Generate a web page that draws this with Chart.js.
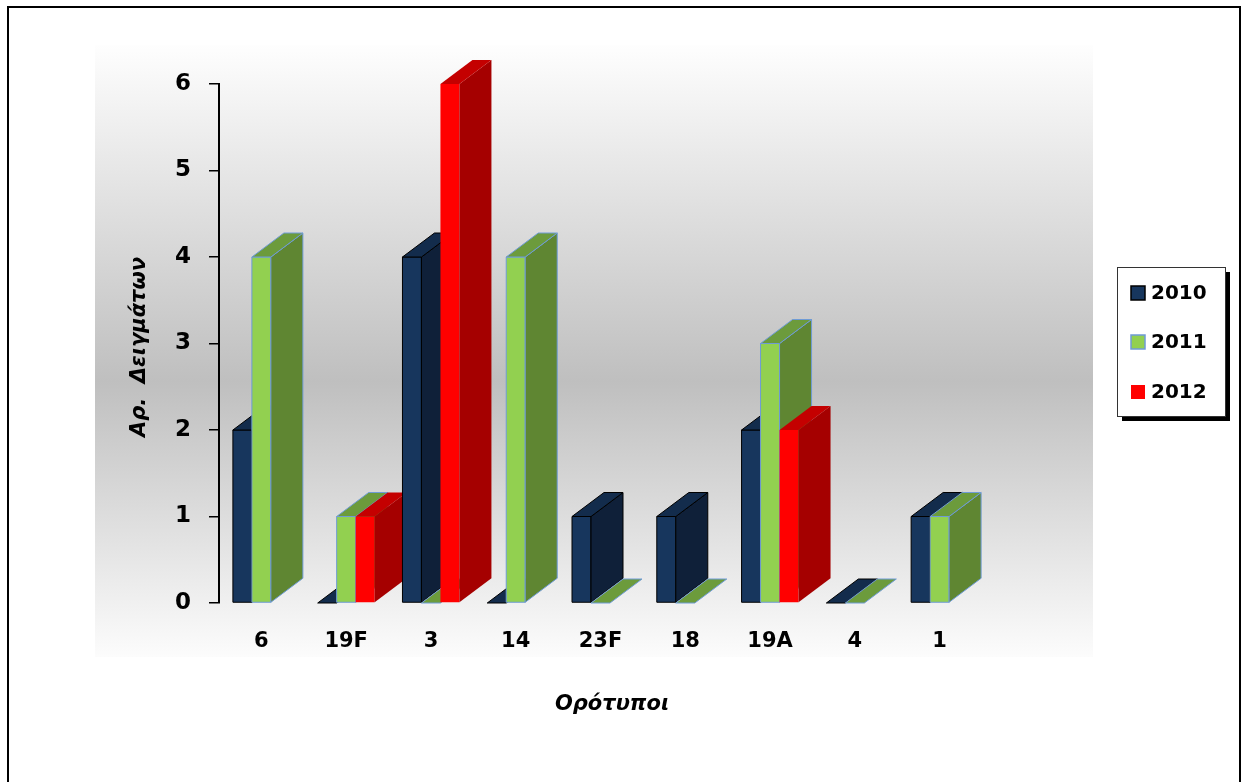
<!DOCTYPE html>
<html>
<head>
<meta charset="utf-8">
<script src="https://cdn.jsdelivr.net/npm/chart.js@4.4.1/dist/chart.umd.min.js"></script>
<style>
  html, body { margin: 0; padding: 0; background: #fff; overflow: hidden; }
  #frame { position: absolute; left: 7px; top: 6px; width: 1234px; height: 800px; border: 2px solid #000; box-sizing: border-box; }
  #wrap { position: absolute; left: 0; top: 0; width: 1246px; height: 782px; }
</style>
</head>
<body>
<div id="frame"></div>
<div id="wrap"><canvas id="chart"></canvas></div>
<script>
// serotypes and sample counts per year
const categories = ['6', '19F', '3', '14', '23F', '18', '19A', '4', '1'];
const years = ['2010', '2011', '2012'];
const s2010 = [2, 0, 4, 0, 1, 1, 2, 0, 1];
const s2011 = [4, 1, 0, 4, 0, 0, 3, 0, 1];
const s2012 = [null, 1, 6, null, null, null, 2, null, null];
const yTicks = [0, 1, 2, 3, 4, 5, 6];

const FONT = "'Comic Sans MS', 'DejaVu Sans', sans-serif";

// front / side / top shading of each series
const faces = [
  { front: '#17365d', side: '#0f2039', top: '#132c4c', edge: '#000000' },
  { front: '#92d050', side: '#5f8632', top: '#6c9b3c', edge: '#6f9bd6' },
  { front: '#ff0000', side: '#a50000', top: '#c40000', edge: null }
];
const DX = 32, DY = 24;

function poly(ctx, pts, fill, edge) {
  ctx.beginPath();
  ctx.moveTo(pts[0][0], pts[0][1]);
  for (let k = 1; k < pts.length; k++) ctx.lineTo(pts[k][0], pts[k][1]);
  ctx.closePath();
  ctx.fillStyle = fill;
  ctx.fill();
  if (edge) { ctx.strokeStyle = edge; ctx.stroke(); }
}

const backdrop = {
  id: 'backdrop',
  beforeDraw(chart) {
    const ctx = chart.ctx;
    const g = ctx.createLinearGradient(0, 45, 0, 657);
    g.addColorStop(0, '#fefefe');
    g.addColorStop(0.55, '#bfbfbf');
    g.addColorStop(1, '#fcfcfc');
    ctx.save();
    ctx.fillStyle = g;
    ctx.fillRect(95, 45, 998, 612);
    ctx.restore();
  }
};

// bars are drawn category by category so each bar hides the side of the one before it
const bars3d = {
  id: 'bars3d',
  afterDatasetsDraw(chart) {
    const ctx = chart.ctx;
    const series = [s2010, s2011, s2012];
    ctx.save();
    ctx.lineWidth = 1;
    ctx.lineJoin = 'round';
    categories.forEach((c, i) => {
      series.forEach((vals, d) => {
        if (vals[i] === null) return;
        const el = chart.getDatasetMeta(d).data[i];
        const f = faces[d];
        const l = el.x - el.width / 2, r = el.x + el.width / 2;
        const t = el.y, b = el.base;
        if (b - t > 0.5) {
          poly(ctx, [[l, t], [r, t], [r, b], [l, b]], f.front, f.edge);
          poly(ctx, [[r, t], [r + DX, t - DY], [r + DX, b - DY], [r, b]], f.side, f.edge);
        }
        poly(ctx, [[l, t], [r, t], [r + DX, t - DY], [l + DX, t - DY]], f.top, f.edge);
      });
    });
    ctx.restore();
  }
};

const extras = {
  id: 'extras',
  afterDraw(chart) {
    const ctx = chart.ctx;
    ctx.save();
    ctx.fillStyle = '#000';
    ctx.font = `italic bold 21px ${FONT}`;
    ctx.textAlign = 'center';
    ctx.textBaseline = 'middle';
    ctx.fillText('Ορότυποι', 612, 705);
    ctx.translate(140, 347);
    ctx.rotate(-Math.PI / 2);
    ctx.fillText('Αρ.  Δειγμάτων', 0, 0);
    ctx.restore();

    // legend box with drop shadow
    const bx = 1117, by = 267, bw = 108, bh = 149;
    ctx.save();
    ctx.fillStyle = '#000';
    ctx.fillRect(bx + 5, by + 5, bw, bh);
    ctx.fillStyle = '#fff';
    ctx.fillRect(bx, by, bw, bh);
    ctx.strokeStyle = '#333';
    ctx.lineWidth = 1;
    ctx.strokeRect(bx + 0.5, by + 0.5, bw, bh);
    const rows = [293, 342, 392];
    ctx.font = `bold 20px ${FONT}`;
    ctx.textBaseline = 'middle';
    ctx.textAlign = 'left';
    years.forEach((yr, d) => {
      const f = faces[d];
      ctx.fillStyle = f.front;
      ctx.fillRect(1131, rows[d] - 7, 14, 14);
      if (f.edge) {
        ctx.strokeStyle = f.edge;
        ctx.lineWidth = 1.5;
        ctx.strokeRect(1131, rows[d] - 7, 14, 14);
      }
      ctx.fillStyle = '#000';
      ctx.fillText(yr, 1151, rows[d] + 1);
    });
    ctx.restore();
  }
};

new Chart(document.getElementById('chart'), {
  type: 'bar',
  data: {
    labels: categories,
    datasets: [
      { label: years[0], data: s2010 },
      { label: years[1], data: s2011 },
      { label: years[2], data: s2012 }
    ].map(ds => Object.assign(ds, {
      backgroundColor: 'rgba(0,0,0,0)', borderWidth: 0,
      categoryPercentage: 0.672, barPercentage: 1, skipNull: false
    }))
  },
  options: {
    responsive: true,
    maintainAspectRatio: false,
    animation: false,
    layout: { padding: { left: 0, right: 264, top: 84, bottom: 0 } },
    plugins: { legend: { display: false }, tooltip: { enabled: false } },
    scales: {
      x: {
        grid: { display: false, drawTicks: false },
        border: { display: false },
        ticks: { color: '#000', font: { family: FONT, size: 21, weight: 'bold' }, padding: 26 },
        afterFit(s) { s.height = 179; }
      },
      y: {
        min: yTicks[0],
        max: yTicks[yTicks.length - 1],
        afterBuildTicks(s) { s.ticks = yTicks.map(v => ({ value: v })); },
        ticks: { color: '#000', font: { family: FONT, size: 23, weight: 'bold' }, padding: 18 },
        grid: { drawOnChartArea: false, tickLength: 10, color: '#000', lineWidth: 1.5 },
        border: { display: true, color: '#000', width: 2 },
        afterFit(s) { s.width = 219; }
      }
    }
  },
  plugins: [backdrop, bars3d, extras]
});
</script>
</body>
</html>
